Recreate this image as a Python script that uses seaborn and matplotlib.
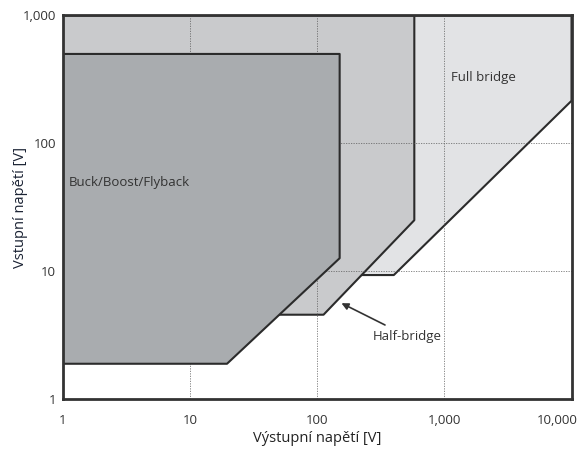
import matplotlib
matplotlib.use("Agg")
import matplotlib.pyplot as plt
import matplotlib.transforms as mtransforms
import seaborn as sns
import pandas as pd

# Operating regions of converter topologies (output voltage vs. input voltage)
full_bridge_vout = [1, 10000, 10000, 400, 1]
full_bridge_vin = [1000, 1000, 215, 9.3, 9.3]

half_bridge_vout = [1, 580, 580, 112, 1]
half_bridge_vin = [1000, 1000, 25, 4.55, 4.55]

buck_vout = [1, 150, 150, 19.5, 1]
buck_vin = [500, 500, 12.6, 1.88, 1.88]

x_ticks = [1, 10, 100, 1000, 10000]
x_tick_labels = ["1", "10", "100", "1,000", "10,000"]
y_ticks = [1, 10, 100, 1000]
y_tick_labels = ["1", "10", "100", "1,000"]

sns.set_theme(style="white")
plt.rcParams["font.family"] = ["Open Sans", "DejaVu Sans"]

fig = plt.figure(figsize=(5.78, 4.5), dpi=100)
ax = fig.add_axes([0.109, 0.1138, 0.8798, 0.8518])

regions = [
    (full_bridge_vout, full_bridge_vin, "#e2e3e5"),
    (half_bridge_vout, half_bridge_vin, "#c9cacc"),
    (buck_vout, buck_vin, "#a9acaf"),
]
for i, (vx, vy, color) in enumerate(regions):
    ax.fill(vx, vy, facecolor=color, edgecolor="none", zorder=1 + i)
    outline = pd.DataFrame({"vout": vx, "vin": vy})
    sns.lineplot(data=outline, x="vout", y="vin", sort=False, estimator=None,
                 color="#2b2b2b", linewidth=1.5, ax=ax, zorder=1.5 + i)

ax.set_xscale("log")
ax.set_yscale("log")
ax.set_xlim(1, 10000)
ax.set_ylim(1, 1000)

ax.set_xticks(x_ticks)
ax.set_xticklabels(x_tick_labels)
ax.set_yticks(y_ticks)
ax.set_yticklabels(y_tick_labels)
ax.minorticks_off()
ax.tick_params(axis="both", length=0, labelsize=9.5, colors="#333333")
ax.tick_params(axis="x", pad=11)
ax.tick_params(axis="y", pad=5)

# keep the last x tick label inside the figure
last = ax.get_xticklabels()[-1]
last.set_horizontalalignment("right")
last.set_transform(last.get_transform() +
                   mtransforms.ScaledTranslation(6 / 100, 0, fig.dpi_scale_trans))

ax.grid(True, which="major", color="#555555", linestyle=(0, (1.5, 1.5)),
        linewidth=0.6, alpha=0.8)
ax.set_axisbelow(False)
for gl in ax.get_xgridlines() + ax.get_ygridlines():
    gl.set_zorder(4)

for side in ax.spines.values():
    side.set_color("#333333")
    side.set_linewidth(2)
    side.set_zorder(10)

ax.set_xlabel("Výstupní napětí [V]", fontsize=10.5, color="#222222")
ax.xaxis.set_label_coords(0.5, -0.085)
ax.set_ylabel("Vstupní napětí [V]", fontsize=10.5, color="#1a2233")
ax.yaxis.set_label_coords(-0.069, 0.5)

ax.text(1.1, 49, "Buck/Boost/Flyback", fontsize=9.5, color="#333333",
        va="center", ha="left", zorder=6)
ax.text(1130, 325, "Full bridge", fontsize=9.5, color="#333333",
        va="center", ha="left", zorder=6)
ax.annotate("Half-bridge", xy=(155, 5.6), xytext=(272, 3.1),
            fontsize=9.5, color="#333333", va="center", ha="left", zorder=6,
            arrowprops=dict(arrowstyle="-|>", color="#333333", lw=1.2,
                            shrinkA=2, shrinkB=0, mutation_scale=10))

fig.savefig("out.png", dpi=100)
